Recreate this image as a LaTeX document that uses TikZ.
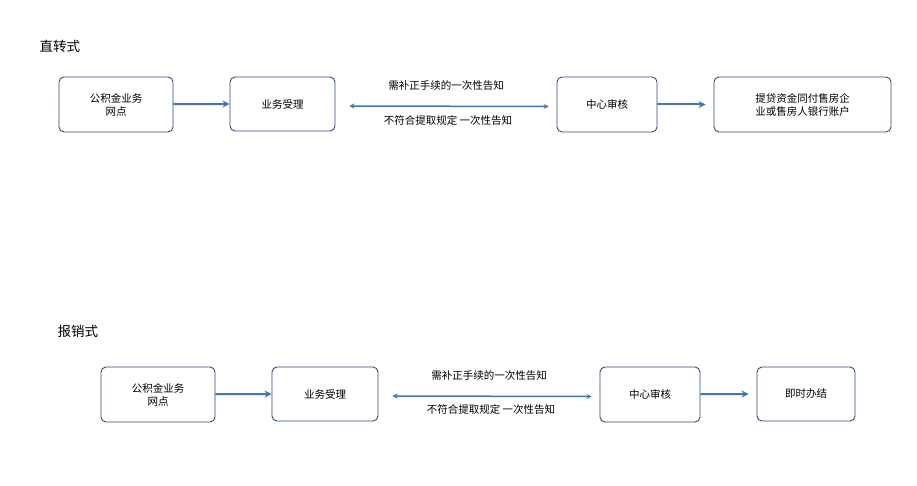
\documentclass[tikz,border=0pt]{standalone}
\usepackage{fontspec}
\setmainfont{Noto Sans CJK SC}
\usetikzlibrary{arrows.meta}
\begin{document}
\begin{tikzpicture}[x=1pt,y=-1pt,
 box/.style={draw=boxc,line width=0.9pt,rounded corners=5pt,align=center,font=\fontsize{10.5}{13}\selectfont,inner sep=0pt},
 arr/.style={draw=arrc,line width=2pt,-{Stealth[length=7pt,width=7pt]}},
 darr/.style={draw=arrc,line width=1.5pt,{Stealth[length=5pt,width=5pt]}-{Stealth[length=5pt,width=5pt]}},
 lab/.style={font=\fontsize{10.5}{13}\selectfont},
 ttl/.style={font=\fontsize{13.5}{16}\selectfont,anchor=west}]
\definecolor{boxc}{HTML}{2F4A86}
\definecolor{arrc}{HTML}{4472C4}
\useasboundingbox[fill=white] (0,0) rectangle (917,486);
\node[ttl] (t1) at (36,46) {直转式};
\node[box,minimum width=114pt,minimum height=55pt] (a1) at (116,104.5) {公积金业务\\网点};
\node[box,minimum width=105pt,minimum height=54pt] (b1) at (282.5,104) {业务受理};
\node[box,minimum width=100pt,minimum height=55pt] (c1) at (607,104.5) {中心审核};
\node[box,minimum width=177pt,minimum height=55pt] (d1) at (802.5,104.5) {提贷资金同付售房企\\业或售房人银行账户};
\draw[arr] (a1) -- (b1.west);
\draw[darr] ([xshift=14pt,yshift=-2pt]b1.east) -- ([xshift=-8pt,yshift=-2pt]c1.west);
\draw[arr] (c1) -- ([xshift=-8pt]d1.west);
\node[lab] (l1) at (446,86) {需补正手续的一次性告知};
\node[lab] (m1) at (448,121) {不符合提取规定 一次性告知};
\node[ttl] (t2) at (54,331) {报销式};
\node[box,minimum width=114pt,minimum height=55pt] (a2) at (158,394.5) {公积金业务\\网点};
\node[box,minimum width=106pt,minimum height=54pt] (b2) at (325,394) {业务受理};
\node[box,minimum width=100pt,minimum height=55pt] (c2) at (650,394.5) {中心审核};
\node[box,minimum width=98pt,minimum height=54pt] (d2) at (806,394) {即时办结};
\draw[arr] (a2) -- (b2.west);
\draw[darr] ([xshift=14pt,yshift=-2pt]b2.east) -- ([xshift=-8pt,yshift=-2pt]c2.west);
\draw[arr] (c2) -- ([xshift=-8pt]d2.west);
\node[lab] (l2) at (489,376) {需补正手续的一次性告知};
\node[lab] (m2) at (491,410) {不符合提取规定 一次性告知};
\end{tikzpicture}
\end{document}
